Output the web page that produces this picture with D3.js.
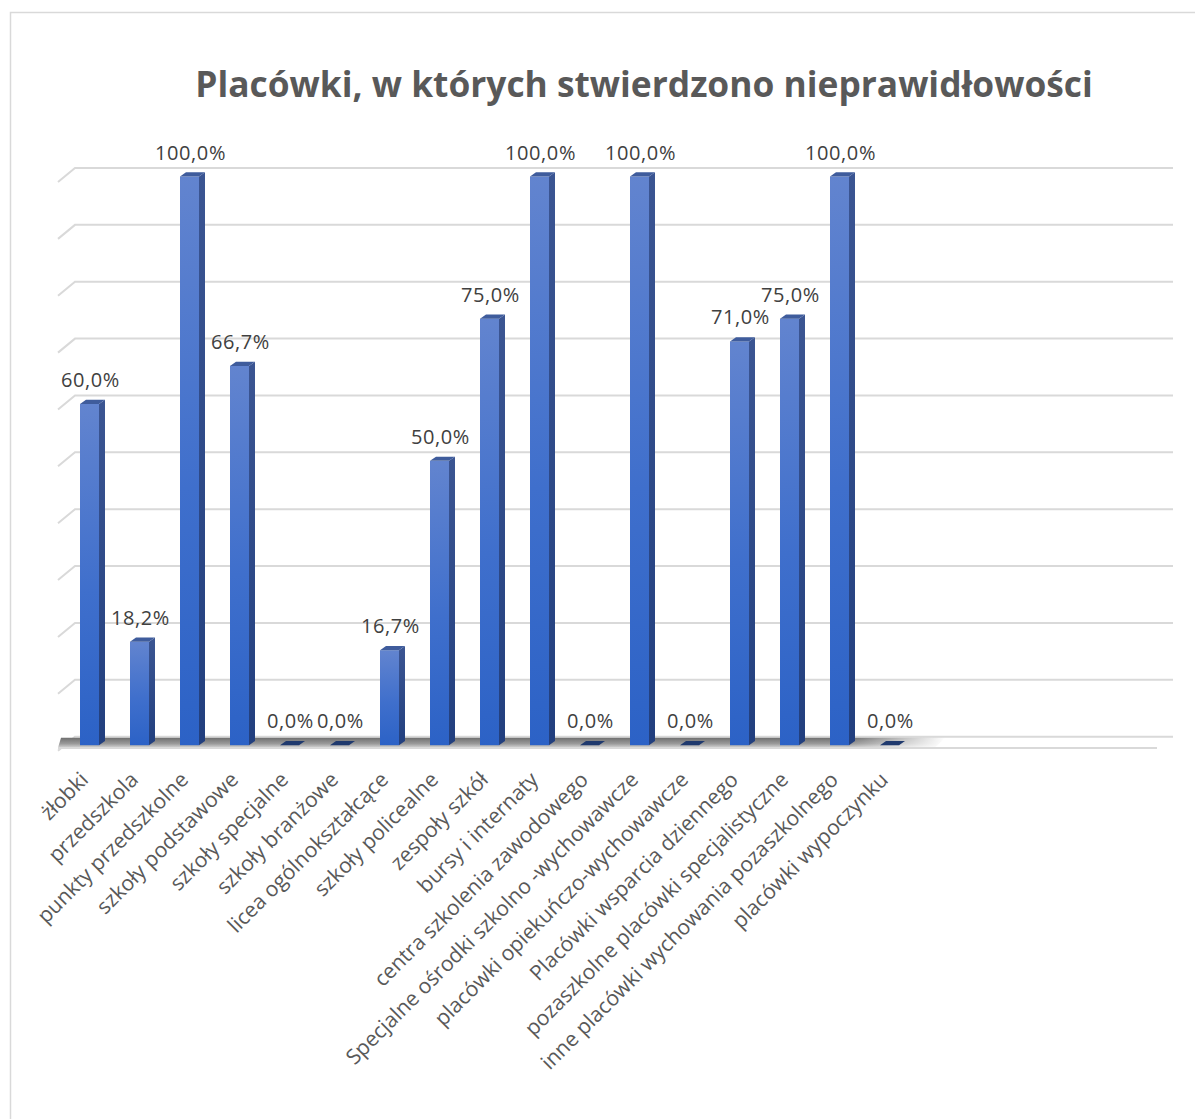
<!DOCTYPE html>
<html><head><meta charset="utf-8">
<script src="https://cdn.jsdelivr.net/npm/d3@7"></script>
<style>
html,body{margin:0;padding:0;background:#fff;}
svg{display:block;}
text{font-family:"Open Sans",sans-serif;}
</style></head>
<body>
<svg id="chart" width="1195" height="1119"></svg>
<script>
const title = "Placówki, w których stwierdzono nieprawidłowości";
const categories = [
  "żłobki","przedszkola","punkty przedszkolne","szkoły podstawowe","szkoły specjalne",
  "szkoły branżowe","licea ogólnokształcące","szkoły policealne","zespoły szkół",
  "bursy i internaty","centra szkolenia zawodowego","Specjalne ośrodki szkolno -wychowawcze",
  "placówki opiekuńczo-wychowawcze","Placówki wsparcia dziennego",
  "pozaszkolne placówki specjalistyczne","inne placówki wychowania pozaszkolnego",
  "placówki wypoczynku"
];
const values = [60.0,18.2,100.0,66.7,0.0,0.0,16.7,50.0,75.0,100.0,0.0,100.0,0.0,71.0,75.0,100.0,0.0];
const gridTicks = [0,10,20,30,40,50,60,70,80,90,100];
const slotCount = 22;

const svg = d3.select("#chart");
const defs = svg.append("defs");

// gradients
const gFront = defs.append("linearGradient").attr("id","gFront").attr("x1",0).attr("y1",0).attr("x2",0).attr("y2",1);
gFront.append("stop").attr("offset","0%").attr("stop-color","#6284cf");
gFront.append("stop").attr("offset","55%").attr("stop-color","#3f6fcc");
gFront.append("stop").attr("offset","100%").attr("stop-color","#2c62c6");
const gSide = defs.append("linearGradient").attr("id","gSide").attr("x1",0).attr("y1",0).attr("x2",0).attr("y2",1);
gSide.append("stop").attr("offset","0%").attr("stop-color","#3b5592");
gSide.append("stop").attr("offset","100%").attr("stop-color","#223f7e");
const gFloor = defs.append("linearGradient").attr("id","gFloor").attr("x1",0).attr("y1",0).attr("x2",0).attr("y2",1);
gFloor.append("stop").attr("offset","0%").attr("stop-color","#6f6f6f");
gFloor.append("stop").attr("offset","60%").attr("stop-color","#9a9a9a");
gFloor.append("stop").attr("offset","100%").attr("stop-color","#d4d4d4");
const gFade = defs.append("linearGradient").attr("id","gFade").attr("gradientUnits","userSpaceOnUse")
  .attr("x1",850).attr("y1",0).attr("x2",945).attr("y2",0);
gFade.append("stop").attr("offset","0%").attr("stop-color","#fff");
gFade.append("stop").attr("offset","100%").attr("stop-color","#000");
defs.append("mask").attr("id","fadeMask").append("rect")
  .attr("x",0).attr("y",0).attr("width",1195).attr("height",1119).attr("fill","url(#gFade)");

// chart border
svg.append("rect").attr("x",10.5).attr("y",12.5).attr("width",1200).attr("height",1120)
  .attr("fill","#fff").attr("stroke","#d9d9d9").attr("stroke-width",1.5);

// scales
const x = d3.scaleBand().domain(d3.range(slotCount)).range([75,1175]);
const y = d3.scaleLinear().domain([0,100]).range([736.7,168]);
const depthX = 6, depthY = 4.2, wallDX = 17, wallDY = 14;
const frontOffset = 8.5;
const barW = 19;
const yF = v => y(v) + frontOffset;
const baseY = yF(0);

// gridlines (back wall + left wall slant)
const grid = svg.append("g");
gridTicks.forEach(t => {
  grid.append("path")
    .attr("d", `M${75-wallDX},${y(t)+wallDY}L75,${y(t)}L1173,${y(t)}`)
    .attr("fill","none").attr("stroke","#d9d9d9").attr("stroke-width",2);
});

// floor
svg.append("path")
  .attr("d", `M${75-wallDX+3},${y(0)+1}L945,${y(0)+1}L935,${baseY+2.5}L${58},${baseY+2.5}Z`)
  .attr("fill","url(#gFloor)").attr("mask","url(#fadeMask)");
svg.append("line").attr("x1",58).attr("x2",1157).attr("y1",748).attr("y2",748)
  .attr("stroke","#d9d9d9").attr("stroke-width",2);

// bars
const bars = svg.append("g");
values.forEach((v,i) => {
  const xl = x(i) + 5, xr = xl + barW;
  const yt = yF(v);
  const g = bars.append("g");
  if (v > 0) {
    g.append("rect").attr("x",xl).attr("y",yt).attr("width",barW).attr("height",baseY-yt).attr("fill","url(#gFront)");
    g.append("path").attr("d",`M${xr},${yt}L${xr+depthX},${yt-depthY}L${xr+depthX},${baseY-depthY}L${xr},${baseY}Z`)
      .attr("fill","url(#gSide)");
    g.append("path").attr("d",`M${xl},${yt}L${xl+depthX},${yt-depthY}L${xr+depthX},${yt-depthY}L${xr},${yt}Z`)
      .attr("fill","#3f5c9c");
  } else {
    g.append("path").attr("d",`M${xl},${baseY}L${xl+depthX},${baseY-depthY}L${xr+depthX},${baseY-depthY}L${xr},${baseY}Z`)
      .attr("fill","#203a6e");
  }
});

// data labels
const fmt = v => v.toFixed(1).replace(".",",") + "%";
svg.append("g").selectAll("text").data(values).join("text")
  .attr("x",(d,i)=>x(i)+5+barW/2+1)
  .attr("y",d=>yF(d)-17)
  .attr("text-anchor","middle")
  .attr("font-size",20).attr("letter-spacing",0.6)
  .attr("fill","#404040")
  .text(fmt);

// category labels
const catLabels = svg.append("g").selectAll("text").data(categories).join("text")
  .attr("transform",(d,i)=>`translate(${x(i)+5+barW/2},${781}) rotate(-45)`)
  .attr("text-anchor","end")
  .attr("font-size",21)
  .attr("fill","#595959")
  .text(d=>d);
const refLen = catLabels.nodes()[15].getComputedTextLength();
catLabels.attr("font-size", 21*410/refLen);

// title
const tt = svg.append("text").attr("x",644).attr("y",97).attr("text-anchor","middle")
  .attr("font-weight","bold").attr("fill","#595959").attr("font-size",34).text(title);
const w = tt.node().getComputedTextLength();
tt.attr("font-size", 34*898/w);
</script>
</body></html>
